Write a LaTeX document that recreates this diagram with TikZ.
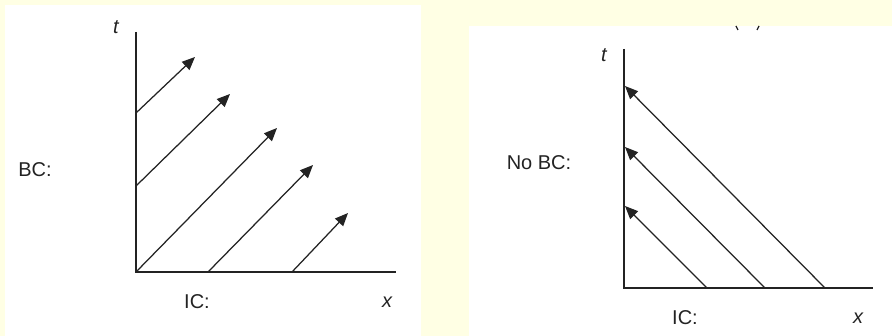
\documentclass[tikz,border=0pt]{standalone}
\usepackage{fontspec}
\setmainfont{Liberation Sans}
\usetikzlibrary{arrows.meta}
\definecolor{bgyellow}{RGB}{255,255,228}
\definecolor{ink}{RGB}{35,35,35}
\tikzset{
  panel/.style={fill=white,draw=none},
  axisline/.style={draw=ink,line width=1.9pt},
  flow/.style={draw=ink,line width=1.25pt,-{Triangle[length=13pt,width=11pt]}},
  lbl/.style={font=\fontsize{20}{22}\selectfont,text=ink,inner sep=0pt},
  varlbl/.style={font=\fontsize{20}{22}\selectfont\itshape,text=ink,inner sep=0pt},
}
\begin{document}
\begin{tikzpicture}[x=1pt,y=-1pt]
\useasboundingbox (0,0) rectangle (892,336);
\fill[bgyellow] (0,0) rectangle (892,336);
\fill[panel] (5,5) rectangle (421,336);
\fill[panel] (469,26) rectangle (892,336);

% ---------- left plot ----------
\coordinate (O1) at (136,272);
\coordinate (T1) at (136,32);
\coordinate (X1) at (396,272);
\draw[axisline] (T1) -- (O1) -- (X1);
\node[varlbl] (t1) at (116,27) {t};
\node[varlbl] (x1) at (387,302) {x};
\node[lbl] (bc) at (35,170) {BC:};
\node[lbl] (ic1) at (197,302) {IC:};

\coordinate (a1s) at (136,113); \coordinate (a1e) at (195,57);
\coordinate (a2s) at (136,186); \coordinate (a2e) at (230,94);
\coordinate (a3s) at (136,272); \coordinate (a3e) at (277,128);
\coordinate (a4s) at (208,272); \coordinate (a4e) at (313,165);
\coordinate (a5s) at (292,272); \coordinate (a5e) at (348,213);
\foreach \i in {1,...,5} \draw[flow] (a\i s) -- (a\i e);

% ---------- right plot ----------
\coordinate (O2) at (624,288);
\coordinate (T2) at (624,49);
\coordinate (X2) at (873,288);
\draw[axisline] (T2) -- (O2) -- (X2);
\node[varlbl] (t2) at (604,55) {t};
\node[varlbl] (x2) at (858,318) {x};
\node[lbl] (nobc) at (539,163) {No BC:};
\node[lbl] (ic2) at (685,318) {IC:};

\coordinate (b1s) at (825,288); \coordinate (b1e) at (625,86);
\coordinate (b2s) at (765,288); \coordinate (b2e) at (625,147);
\coordinate (b3s) at (707,288); \coordinate (b3e) at (625,206);
\foreach \i in {1,2,3} \draw[flow] (b\i s) -- (b\i e);

% clipped fragment of a caption at the top of the right panel
\draw[ink,line width=1.2pt] (736,26) -- (738,30);
\draw[ink,line width=1.2pt] (759,26) -- (757,30);
\end{tikzpicture}
\end{document}
